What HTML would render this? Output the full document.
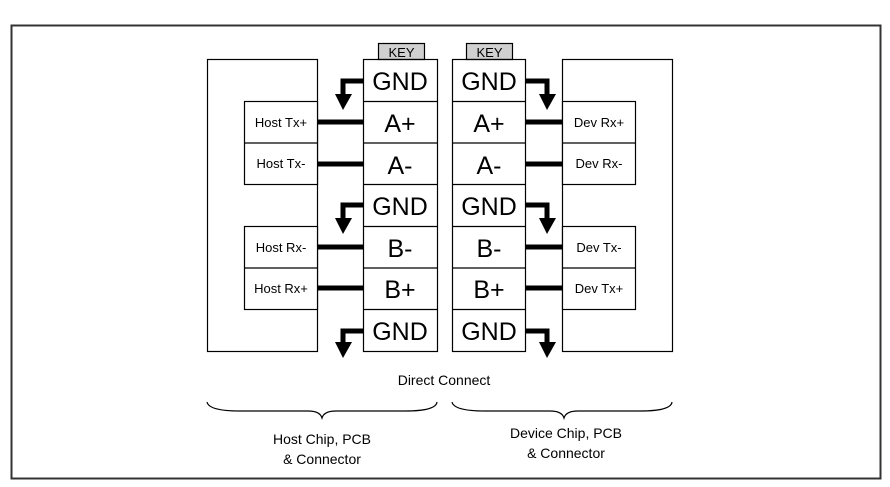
<!DOCTYPE html>
<html><head><meta charset="utf-8"><style>
html,body{margin:0;padding:0;background:#fff;}
svg{display:block;}
text{font-family:"Liberation Sans",Arial,sans-serif;fill:#000;}
</style></head><body>
<svg width="890" height="487" viewBox="0 0 890 487" xmlns="http://www.w3.org/2000/svg">
<rect x="11.5" y="25.5" width="869" height="453" fill="#fff" stroke="#333" stroke-width="2"/>
<g fill="none" stroke="#000" stroke-width="1.2">
<rect x="207.5" y="59.5" width="110" height="292"/>
<rect x="244.5" y="101.5" width="73" height="83" fill="#fff"/>
<line x1="244" y1="143" x2="318" y2="143"/>
<rect x="244.5" y="226.5" width="73" height="83" fill="#fff"/>
<line x1="244" y1="268" x2="318" y2="268"/>
<rect x="562.5" y="59.5" width="110" height="292"/>
<rect x="562.5" y="101.5" width="73" height="83" fill="#fff"/>
<line x1="562" y1="143" x2="636" y2="143"/>
<rect x="562.5" y="226.5" width="73" height="83" fill="#fff"/>
<line x1="562" y1="268" x2="636" y2="268"/>
<rect x="378.5" y="43.5" width="46" height="16" fill="#d0d0d0"/>
<rect x="466.5" y="43.5" width="46" height="16" fill="#d0d0d0"/>
<rect x="363.5" y="59.5" width="74" height="292"/>
<rect x="452.5" y="59.5" width="73" height="292"/>
<path d="M363 101.5H438M363 143H438M363 184.5H438M363 226.5H438M363 268H438M363 309.5H438"/>
<path d="M452 101.5H526M452 143H526M452 184.5H526M452 226.5H526M452 268H526M452 309.5H526"/>
<path d="M207 402 Q209 411 240 411 L308 411 Q320 411 322 418 Q324 411 336 411 L405 411 Q436 411 437 402"/>
<path d="M452 402 Q454 411 485 411 L550 411 Q562 411 564 418 Q566 411 578 411 L640 411 Q671 411 672 402"/>
</g>
<g stroke="#000" stroke-width="5" fill="none">
<path d="M318 122H363M318 164H363M318 247H363M318 288H363"/>
<path d="M526 122H562M526 164H562M526 247H562M526 288H562"/>
<path d="M363 81H343V96M363 205H343V220M363 331H343V344"/>
<path d="M526 81H547V96M526 205H547V220M526 331H547V344"/>
</g>
<g fill="#000">
<polygon points="335,94 352,94 343,110"/>
<polygon points="335,218 352,218 343,234"/>
<polygon points="335,342 352,342 343,358"/>
<polygon points="539,94 556,94 547,110"/>
<polygon points="539,218 556,218 547,234"/>
<polygon points="539,342 556,342 547,358"/>
</g>
<g font-size="13" text-anchor="middle">
<text x="401.5" y="57">KEY</text><text x="489.5" y="57">KEY</text>
</g>
<g font-size="25" text-anchor="middle">
<text x="400" y="90">GND</text><text x="400" y="132">A+</text><text x="400" y="174">A-</text>
<text x="400" y="215">GND</text><text x="400" y="257">B-</text><text x="400" y="298">B+</text><text x="400" y="340">GND</text>
<text x="489" y="90">GND</text><text x="489" y="132">A+</text><text x="489" y="174">A-</text>
<text x="489" y="215">GND</text><text x="489" y="257">B-</text><text x="489" y="298">B+</text><text x="489" y="340">GND</text>
</g>
<g font-size="13" text-anchor="middle">
<text x="281" y="127">Host Tx+</text><text x="281" y="168">Host Tx-</text>
<text x="281" y="252">Host Rx-</text><text x="281" y="293">Host Rx+</text>
<text x="599" y="127">Dev Rx+</text><text x="599" y="168">Dev Rx-</text>
<text x="599" y="252">Dev Tx-</text><text x="599" y="293">Dev Tx+</text>
</g>
<g font-size="14" text-anchor="middle">
<text x="444" y="385">Direct Connect</text>
<text x="322" y="444">Host Chip, PCB</text><text x="322" y="464">&amp; Connector</text>
<text x="566" y="438">Device Chip, PCB</text><text x="566" y="458">&amp; Connector</text>
</g>
</svg>
</body></html>
